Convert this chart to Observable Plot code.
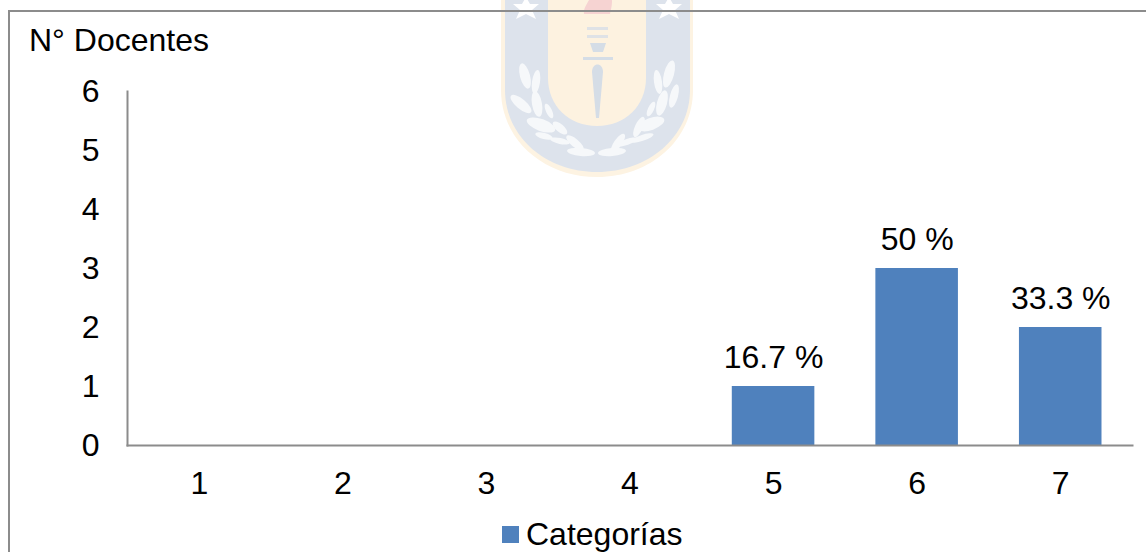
<!DOCTYPE html>
<html>
<head>
<meta charset="utf-8">
<script src="https://cdn.jsdelivr.net/npm/d3@7"></script>
<script src="https://cdn.jsdelivr.net/npm/@observablehq/plot@0.6"></script>
<style>
html,body{margin:0;padding:0;background:#fff;overflow:hidden}
#stage{position:relative;width:1146px;height:552px;overflow:hidden;font-family:"Liberation Sans",Arial,sans-serif;color:#000}
#crest{position:absolute;left:0;top:0;filter:blur(0.7px)}
#frame{position:absolute;left:8px;top:10px;width:1146px;height:600px;border:2px solid #8c8c8c;box-sizing:border-box}
#plot{position:absolute;left:0;top:0}
#plot svg{background:transparent!important}
#ytitle{position:absolute;left:29px;top:22px;font-size:32px;line-height:37px;white-space:nowrap}
#legend{position:absolute;left:502px;top:516px;display:flex;align-items:center;font-size:32px;line-height:37px;white-space:nowrap}
#legend i{display:block;width:17px;height:17px;background:#4f81bd;margin-right:7px}
</style>
</head>
<body>
<div id="stage">
<svg id="crest" width="1146" height="552" viewBox="0 0 1146 552">
  <path d="M501,-10H693V90C693,140 650,177 597,177C544,177 501,140 501,90Z" fill="#fdf3e2"/>
  <path d="M505,-10H690V90C690,137 648,172 597,172C546,172 505,137 505,90Z" fill="#dde3ec"/>
  <path d="M548,-10H646V78C646,106 625,126 597,126C569,126 548,106 548,78Z" fill="#fdf2e0"/>
  <path d="M584,14C583,6 590,2 592,-8L610,-8C614,2 611,8 610,14Z" fill="#f6d3d2"/>
  <path d="M587,27H608V30H587ZM587,35H608V38H587Z" fill="#dfe2e6"/>
  <path d="M590,43H606L603,52H593Z" fill="#d5dde6"/>
  <rect x="583" y="57" width="30" height="3" fill="#d5dde6"/>
  <path d="M592,72C592,62 603,62 603,72L599,118H596Z" fill="#d5dde6"/>
  <path d="M518,-3L522,4L531,4L524,10L528,19L518,14L508,19L512,10L505,4L514,4Z" transform="translate(8,0)" fill="#fff"/>
  <path d="M518,-3L522,4L531,4L524,10L528,19L518,14L508,19L512,10L505,4L514,4Z" transform="translate(151,0)" fill="#fff"/>
  <g fill="#f6f8fa">
    <ellipse cx="525" cy="76" rx="5" ry="13" transform="rotate(-15 525 76)"/>
    <ellipse cx="536" cy="82" rx="4" ry="12" transform="rotate(8 536 82)"/>
    <ellipse cx="521" cy="104" rx="5" ry="13" transform="rotate(-50 521 104)"/>
    <ellipse cx="537" cy="104" rx="5" ry="13" transform="rotate(-10 537 104)"/>
    <ellipse cx="549" cy="111" rx="3" ry="8" transform="rotate(-25 549 111)"/>
    <ellipse cx="541" cy="125" rx="6" ry="15" transform="rotate(-70 541 125)"/>
    <ellipse cx="560" cy="128" rx="4" ry="9" transform="rotate(-50 560 128)"/>
    <ellipse cx="544" cy="136" rx="3" ry="9" transform="rotate(-75 544 136)"/>
    <ellipse cx="560" cy="141" rx="3" ry="10" transform="rotate(-78 560 141)"/>
    <ellipse cx="575" cy="143" rx="4" ry="11" transform="rotate(-50 575 143)"/>
    <ellipse cx="581" cy="152" rx="4" ry="14" transform="rotate(-85 581 152)"/>
    <ellipse cx="669" cy="74" rx="5" ry="14" transform="rotate(15 669 74)"/>
    <ellipse cx="658" cy="82" rx="4" ry="12" transform="rotate(-8 658 82)"/>
    <ellipse cx="674" cy="96" rx="4" ry="12" transform="rotate(15 674 96)"/>
    <ellipse cx="662" cy="103" rx="5" ry="13" transform="rotate(15 662 103)"/>
    <ellipse cx="651" cy="109" rx="3" ry="8" transform="rotate(25 651 109)"/>
    <ellipse cx="651" cy="124" rx="6" ry="14" transform="rotate(70 651 124)"/>
    <ellipse cx="639" cy="127" rx="4" ry="11" transform="rotate(25 639 127)"/>
    <ellipse cx="642" cy="138" rx="3" ry="12" transform="rotate(72 642 138)"/>
    <ellipse cx="627" cy="142" rx="3" ry="10" transform="rotate(70 627 142)"/>
    <ellipse cx="618" cy="143" rx="4" ry="11" transform="rotate(35 618 143)"/>
    <ellipse cx="612" cy="152" rx="4" ry="14" transform="rotate(85 612 152)"/>
  </g>
</svg>
<div id="frame"></div>
<div id="plot"></div>
<div id="ytitle">N° Docentes</div>
<div id="legend"><i></i><span id="legendText"></span></div>
</div>
<script>
const categories = [1, 2, 3, 4, 5, 6, 7];
const docentes = [0, 0, 0, 0, 1, 3, 2];
const etiquetas = ["", "", "", "", "16.7 %", "50 %", "33.3 %"];
const yTicks = [0, 1, 2, 3, 4, 5, 6];
const titulo = "N° Docentes";
const serie = "Categorías";

const rows = categories.map((c, i) => ({categoria: c, docentes: docentes[i], etiqueta: etiquetas[i]}));
const shown = rows.filter(d => d.docentes > 0);
const gray = "#8c8c8c";

const chart = Plot.plot({
  width: 1146,
  height: 552,
  marginLeft: 127,
  marginRight: 14,
  marginTop: 91,
  marginBottom: 107,
  style: {fontFamily: '"Liberation Sans", Arial, sans-serif', fontSize: "32px", background: "transparent", color: "#000", overflow: "visible"},
  x: {domain: categories, paddingInner: 0.425, paddingOuter: 0.2125, round: false, label: null},
  y: {domain: [0, 6], ticks: yTicks, label: null},
  marks: [
    Plot.barY(shown, {x: "categoria", y: "docentes", fill: "#4f81bd"}),
    Plot.frame({anchor: "left", stroke: gray, strokeWidth: 2}),
    Plot.frame({anchor: "bottom", stroke: gray, strokeWidth: 2}),
    Plot.axisY({ticks: yTicks, tickSize: 0, tickPadding: 28, label: null, fontSize: 32, fill: "#000", tickFormat: d3.format("d")}),
    Plot.axisX({tickSize: 0, tickPadding: 26, label: null, fontSize: 32, fill: "#000"}),
    Plot.text(shown, {x: "categoria", y: "docentes", text: "etiqueta", dy: -29, fontSize: 32, fill: "#000"})
  ]
});
document.getElementById("plot").appendChild(chart);
document.getElementById("ytitle").textContent = titulo;
document.getElementById("legendText").textContent = serie;
</script>
</body>
</html>
